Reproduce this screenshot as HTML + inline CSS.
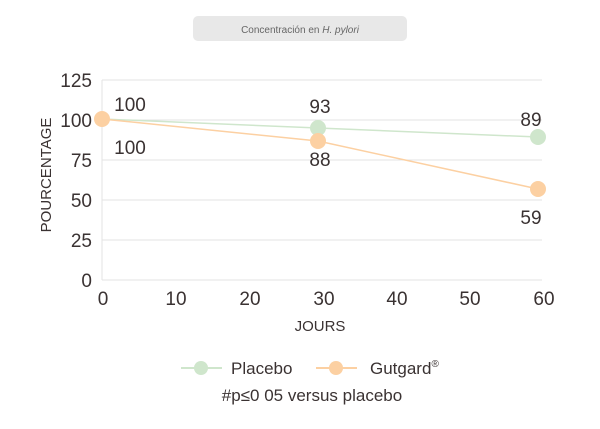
<!DOCTYPE html>
<html><head><meta charset="utf-8"><style>
body{margin:0;background:#fff;}
svg text{font-family:"Liberation Sans",sans-serif;fill:#3a3232;}
</style></head><body>
<svg width="600" height="424" xmlns="http://www.w3.org/2000/svg">
<rect x="193" y="16" width="214" height="25" rx="5" fill="#e8e8e8"/>
<text x="300" y="33" font-size="10" text-anchor="middle" fill="#666" style="fill:#666">Concentración en <tspan font-style="italic">H. pylori</tspan></text>
<g stroke="#e3e3e3" stroke-width="1">
<line x1="102" y1="80" x2="542" y2="80"/>
<line x1="102" y1="120" x2="542" y2="120"/>
<line x1="102" y1="160" x2="542" y2="160"/>
<line x1="102" y1="200" x2="542" y2="200"/>
<line x1="102" y1="240" x2="542" y2="240"/>
<line x1="102" y1="280" x2="542" y2="280"/>
<line x1="102" y1="80" x2="102" y2="280"/>
</g>
<g font-size="19" text-anchor="end">
<text x="92" y="87">125</text><text x="92" y="127">100</text><text x="92" y="167">75</text>
<text x="92" y="207">50</text><text x="92" y="247">25</text><text x="92" y="287">0</text>
</g>
<g font-size="19" text-anchor="middle">
<text x="103" y="305">0</text><text x="176" y="305">10</text><text x="250" y="305">20</text>
<text x="324" y="305">30</text><text x="397" y="305">40</text><text x="470" y="305">50</text><text x="544" y="305">60</text>
</g>
<text x="320" y="331" font-size="15" text-anchor="middle">JOURS</text>
<text transform="translate(51,175) rotate(-90)" font-size="15" text-anchor="middle">POURCENTAGE</text>
<polyline points="102,119 318,128 538,137" fill="none" stroke="#cfe6cc" stroke-width="1.5"/>
<polyline points="102,119 318,141 538,189" fill="none" stroke="#fcd0a2" stroke-width="1.5"/>
<circle cx="318" cy="128" r="8" fill="#cfe6cc"/>
<circle cx="538" cy="137" r="8" fill="#cfe6cc"/>
<circle cx="102" cy="119" r="8" fill="#fcd0a2"/>
<circle cx="318" cy="141" r="8" fill="#fcd0a2"/>
<circle cx="538" cy="189" r="8" fill="#fcd0a2"/>
<g font-size="19" text-anchor="middle">
<text x="130" y="111">100</text><text x="130" y="154">100</text>
<text x="320" y="113">93</text><text x="320" y="166">88</text>
<text x="531" y="126">89</text><text x="531" y="224">59</text>
</g>
<line x1="181" y1="368" x2="222" y2="368" stroke="#cfe6cc" stroke-width="2"/>
<circle cx="201" cy="368" r="7" fill="#cfe6cc"/>
<text x="231" y="374" font-size="17">Placebo</text>
<line x1="316" y1="368" x2="357" y2="368" stroke="#fcd0a2" stroke-width="2"/>
<circle cx="336" cy="368" r="7" fill="#fcd0a2"/>
<text x="370" y="374" font-size="17">Gutgard<tspan font-size="10" dy="-7">®</tspan></text>
<text x="312" y="401" font-size="17" text-anchor="middle">#p≤0 05 versus placebo</text>
</svg>
</body></html>
